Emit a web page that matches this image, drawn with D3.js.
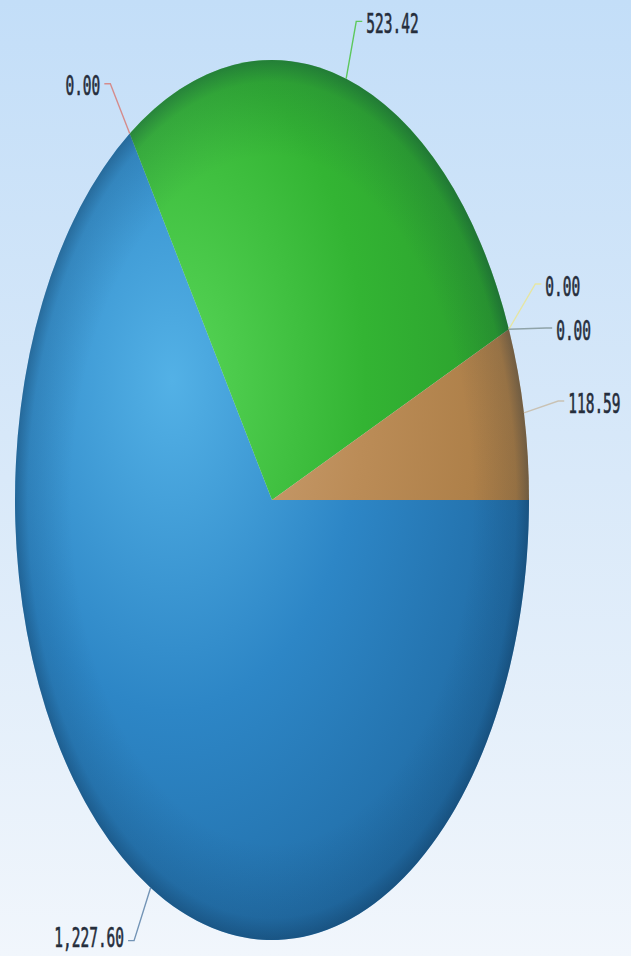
<!DOCTYPE html>
<html>
<head>
<meta charset="utf-8">
<script src="https://cdn.jsdelivr.net/npm/d3@7"></script>
<style>
  html, body { margin: 0; padding: 0; overflow: hidden; }
  svg { display: block; }
</style>
</head>
<body>
<svg id="chart" width="631" height="956"></svg>
<script>
// Slice values, in drawing order (clockwise from 3 o'clock)
const values = [1227.60, 0.00, 523.42, 0.00, 0.00, 118.59];
// Fill shades per slice: highlight, body, rim
const lightColors = ["#53b1e6", "#e07a7a", "#58d658", "#f0f0a0", "#9ec8c8", "#d0a67c"];
const baseColors  = ["#2d86c6", "#c85050", "#33b433", "#d8d870", "#6aa0a0", "#bb8c57"];
const darkColors  = ["#1c6299", "#902828", "#25902a", "#a8a840", "#3f7070", "#a0733a"];
// Leader line colours
const leaderColors = ["#7394b6", "#d58c8c", "#5cc85c", "#e6e6a2", "#8fa3a8", "#c9c2b4"];

const W = 631, H = 956;
const cx = 272, cy = 500;
const R = 257;              // pie radius (horizontal)
const k = 440 / 257;        // vertical stretch of the pie
const R2 = 292;             // leader elbow radius

const svg = d3.select("#chart");
const defs = svg.append("defs");

// Page background: light blue fading to near white
const bg = defs.append("linearGradient").attr("id", "bg")
  .attr("x1", 0).attr("y1", 0).attr("x2", 0).attr("y2", 1);
bg.append("stop").attr("offset", 0).attr("stop-color", "#c3def8");
bg.append("stop").attr("offset", 0.5).attr("stop-color", "#d9e9f9");
bg.append("stop").attr("offset", 1).attr("stop-color", "#f1f6fc");
svg.append("rect").attr("width", W).attr("height", H).attr("fill", "url(#bg)");

// Per-slice spherical shading
values.forEach((v, i) => {
  const g = defs.append("radialGradient").attr("id", "sg" + i)
    .attr("gradientUnits", "userSpaceOnUse")
    .attr("cx", -100).attr("cy", -70).attr("r", 430)
    .attr("fx", -100).attr("fy", -70);
  g.append("stop").attr("offset", 0).attr("stop-color", lightColors[i]);
  g.append("stop").attr("offset", 0.45).attr("stop-color", baseColors[i]);
  g.append("stop").attr("offset", 1).attr("stop-color", darkColors[i]);
});

// Rim darkening overlay
const rim = defs.append("radialGradient").attr("id", "rim")
  .attr("gradientUnits", "userSpaceOnUse")
  .attr("cx", 0).attr("cy", 0).attr("r", R);
rim.append("stop").attr("offset", 0.78).attr("stop-color", "#0a2540").attr("stop-opacity", 0);
rim.append("stop").attr("offset", 0.95).attr("stop-color", "#0a2540").attr("stop-opacity", 0.13);
rim.append("stop").attr("offset", 1).attr("stop-color", "#0a2540").attr("stop-opacity", 0.36);

const pie = d3.pie().sort(null).value(d => d)
  .startAngle(Math.PI / 2).endAngle(Math.PI / 2 + 2 * Math.PI);
const arcs = pie(values);
const arc = d3.arc().innerRadius(0).outerRadius(R);

const pieG = svg.append("g").attr("transform", `translate(${cx},${cy}) scale(1,${k})`);
pieG.selectAll("path.slice").data(arcs).enter().append("path")
  .attr("class", "slice")
  .attr("d", arc)
  .attr("fill", (d, i) => `url(#sg${i})`);
pieG.append("circle").attr("r", R).attr("fill", "url(#rim)");

// Labels: leader from slice edge to an elbow, then a short tick and the value
const fmt = d3.format(",.2f");
const toPage = (r, a) => [cx + r * Math.sin(a), cy - r * Math.cos(a) * k];

const labels = arcs.map((d, i) => {
  const a = (d.startAngle + d.endAngle) / 2;
  const edge = toPage(R, a);
  const elbow = toPage(R2, a);
  return { i, a, edge, y: elbow[1], side: Math.sin(a) >= 0 ? 1 : -1, text: fmt(d.value) };
});

// Spread labels that would overlap on the same side
const minGap = 44;
[1, -1].forEach(side => {
  const group = labels.filter(l => l.side === side).sort((p, q) => p.y - q.y || p.i - q.i);
  for (let iter = 0; iter < 30; iter++) {
    for (let j = 1; j < group.length; j++) {
      const gap = group[j].y - group[j - 1].y;
      if (gap < minGap) {
        const push = (minGap - gap) / 2;
        group[j - 1].y -= push;
        group[j].y += push;
      }
    }
  }
});

labels.forEach(l => {
  const yu = (l.y - cy) / k;
  const xu = Math.sqrt(Math.max(0, R2 * R2 - yu * yu));
  l.elbow = [cx + l.side * xu, l.y];
  l.tick = [l.elbow[0] + l.side * 6, l.y];
  l.tx = l.tick[0] + l.side * 4;
});

const labelG = svg.append("g");
labelG.selectAll("polyline").data(labels).enter().append("polyline")
  .attr("points", l => [l.edge, l.elbow, l.tick].map(p => p.join(",")).join(" "))
  .attr("fill", "none")
  .attr("stroke", l => leaderColors[l.i])
  .attr("stroke-width", 1.4);

labelG.selectAll("text").data(labels).enter().append("text")
  .attr("transform", l => `translate(${l.tx},${Math.min(l.y + 2, H - 19)}) scale(1,1.85)`)
  .attr("dy", "0.36em")
  .attr("text-anchor", l => l.side > 0 ? "start" : "end")
  .attr("font-family", "'DejaVu Sans Mono', monospace")
  .attr("font-size", 14.5)
  .attr("fill", "#252d3b")
  .attr("stroke", "#252d3b")
  .attr("stroke-width", 0.35)
  .text(l => l.text);
</script>
</body>
</html>
